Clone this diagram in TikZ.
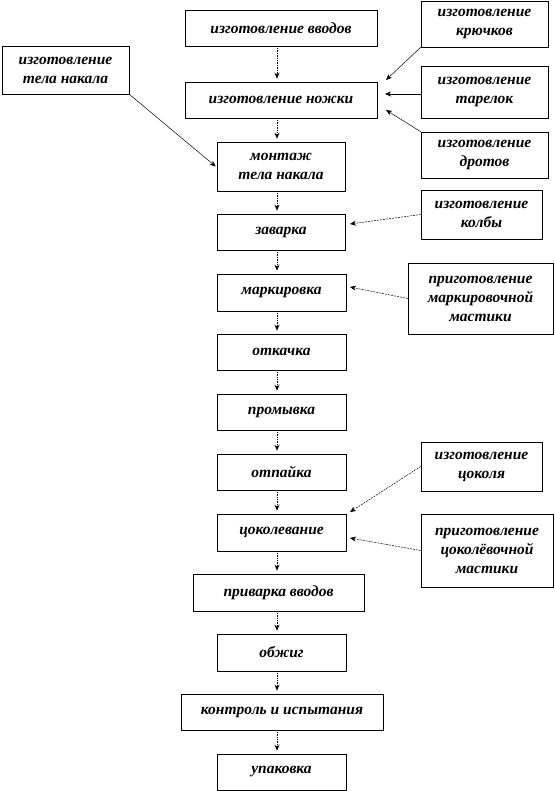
\documentclass[tikz,border=0pt]{standalone}
\usepackage{fontspec}
\setmainfont{Liberation Serif}
\usetikzlibrary{arrows.meta}
\begin{document}
\begin{tikzpicture}[x=1pt,y=-1pt,
  box/.style={draw, line width=0.6pt, rectangle, inner sep=1pt, align=center,
    font=\fontsize{15.5}{19}\selectfont\bfseries\itshape},
  flow/.style={densely dotted, line width=0.7pt, -{Stealth[length=6pt,width=5pt]}},
  side/.style={line width=0.5pt, -{Stealth[length=6pt,width=5pt]}},
  sided/.style={line width=0.5pt, dash pattern=on 2pt off 1pt, -{Stealth[length=6pt,width=5pt]}}]
\useasboundingbox (0,0) rectangle (554,791);
% main column
\node[box, minimum width=192, minimum height=36] (n1) at (281,28) {изготовление вводов};
\node[box, minimum width=192, minimum height=36] (n2) at (281,100) {изготовление ножки};
\node[box, minimum width=128, minimum height=49] (n3) at (281,166.5) {монтаж\\тела накала};
\node[box, minimum width=128, minimum height=36] (n4) at (281,232) {заварка};
\node[box, minimum width=129, minimum height=37] (n5) at (281.5,292.5) {маркировка};
\node[box, minimum width=129, minimum height=36] (n6) at (281.5,352) {откачка};
\node[box, minimum width=129, minimum height=36] (n7) at (281.5,412) {промывка};
\node[box, minimum width=129, minimum height=36] (n8) at (281.5,472) {отпайка};
\node[box, minimum width=129, minimum height=37] (n9) at (281.5,532.5) {цоколевание};
\node[box, minimum width=171, minimum height=37] (n10) at (278.5,592.5) {приварка вводов};
\node[box, minimum width=129, minimum height=37] (n11) at (281.5,652.5) {обжиг};
\node[box, minimum width=202, minimum height=36] (n12) at (282,712) {контроль и испытания};
\node[box, minimum width=129, minimum height=36] (n13) at (281.5,772) {упаковка};
% side boxes
\node[box, minimum width=127, minimum height=46] (r1) at (484.5,24) {изготовление\\крючков};
\node[box, minimum width=127, minimum height=52] (r2) at (484.5,92) {изготовление\\тарелок};
\node[box, minimum width=127, minimum height=46] (r3) at (484.5,155) {изготовление\\дротов};
\node[box, minimum width=121, minimum height=49] (r4) at (481.5,214.5) {изготовление\\колбы};
\node[box, minimum width=145, minimum height=71] (r5) at (480.5,298.5) {приготовление\\маркировочной\\мастики};
\node[box, minimum width=121, minimum height=49] (r6) at (481.5,466.5) {изготовление\\цоколя};
\node[box, minimum width=132, minimum height=73] (r7) at (487,550.5) {приготовление\\цоколёвочной\\мастики};
\node[box, minimum width=127, minimum height=48] (l1) at (65.5,70) {изготовление\\тела накала};
% main flow arrows
\foreach \a/\b in {n1/n2,n2/n3,n3/n4,n4/n5,n5/n6,n6/n7,n7/n8,n8/n9,n9/n10,n10/n11,n11/n12,n12/n13}
  \draw[flow] (\a.south -| 277,0) -- ([yshift=3pt]\b.north -| 277,0);
% side arrow ends
\coordinate (e1) at (386,80);
\coordinate (e2) at (385,94);
\coordinate (e3) at (386,110);
\coordinate (e4) at (350,224);
\coordinate (e5) at (350,287);
\coordinate (e6) at (350,512);
\coordinate (e7) at (350,538);
\draw[side] (r1.south west) -- (e1);
\draw[side] (r2.west |- e2) -- (e2);
\draw[side] (r3.north west) -- (e3);
\draw[side] (l1.south east) -- ([xshift=-1pt]n3.west);
\draw[sided] (r4.west) -- (e4);
\draw[sided] (r5.west) -- (e5);
\draw[sided] (r6.west) -- (e6);
\draw[sided] (r7.west) -- (e7);
\end{tikzpicture}
\end{document}
